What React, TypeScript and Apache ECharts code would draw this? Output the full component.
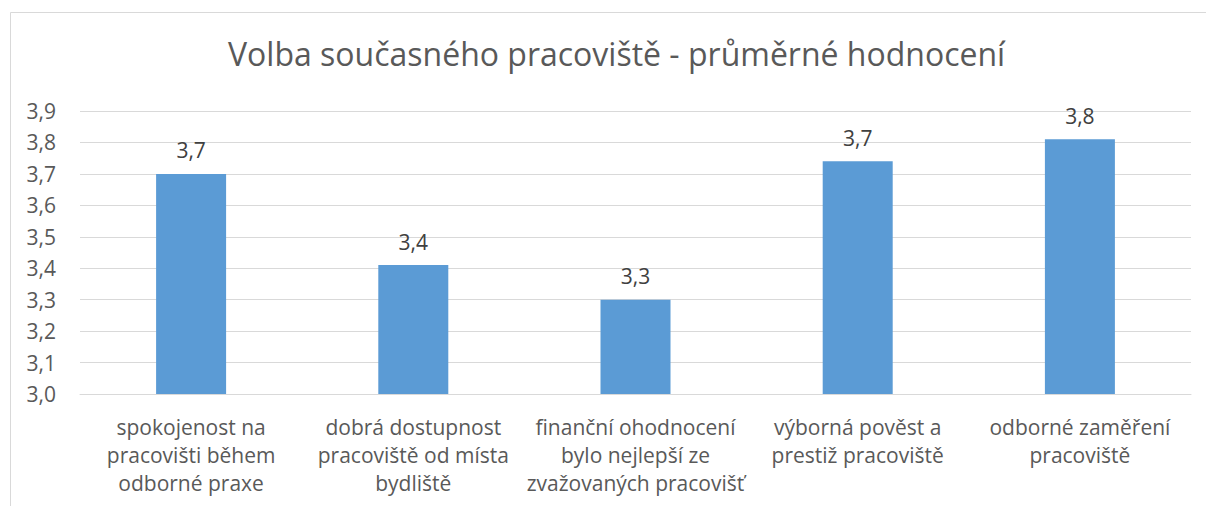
import React, { useEffect, useRef } from "react";
import * as echarts from "echarts";

const title = "Volba současného pracoviště - průměrné hodnocení";
const categories = [
  "spokojenost na\npracovišti během\nodborné praxe",
  "dobrá dostupnost\npracoviště od místa\nbydliště",
  "finanční ohodnocení\nbylo nejlepší ze\nzvažovaných pracovišť",
  "výborná pověst a\nprestiž pracoviště",
  "odborné zaměření\npracoviště",
];
const values = [3.7, 3.41, 3.3, 3.74, 3.81];
const yMin = 3.0;
const yMax = 3.9;
const yInterval = 0.1;

const FONT = "'Open Sans', sans-serif";
const TEXT = "#595959";

export default function App() {
  const ref = useRef<HTMLDivElement>(null);
  useEffect(() => {
    const chart = echarts.init(ref.current!, null, { renderer: "svg" });
    chart.setOption({
      animation: false,
      backgroundColor: "#ffffff",
      title: {
        text: title,
        left: 223,
        top: 32,
        textStyle: { fontFamily: FONT, fontSize: 32, fontWeight: "normal", color: TEXT },
      },
      graphic: [
        {
          type: "rect",
          shape: { x: 10.5, y: 12.5, width: 1400, height: 800 },
          style: { fill: "none", stroke: "#d9d9d9", lineWidth: 1 },
          silent: true,
        },
      ],
      grid: { left: 80, right: 15, top: 111, bottom: 112, containLabel: false },
      xAxis: {
        type: "category",
        data: categories,
        axisLine: { lineStyle: { color: "#d9d9d9", width: 1 } },
        axisTick: { show: false },
        axisLabel: {
          interval: 0,
          margin: 19,
          fontFamily: FONT,
          fontSize: 21,
          lineHeight: 28,
          color: TEXT,
          align: "center",
        },
      },
      yAxis: {
        type: "value",
        min: yMin,
        max: yMax,
        interval: yInterval,
        axisLine: { show: false },
        axisTick: { show: false },
        splitLine: { lineStyle: { color: "#d9d9d9", width: 1 } },
        axisLabel: {
          margin: 24,
          fontFamily: FONT,
          fontSize: 21,
          color: TEXT,
          formatter: (v: number) => v.toFixed(1).replace(".", ","),
        },
      },
      series: [
        {
          type: "bar",
          data: values,
          barWidth: 70,
          itemStyle: { color: "#5b9bd5" },
          label: {
            show: true,
            position: "top",
            distance: 13,
            fontFamily: FONT,
            fontSize: 21,
            color: "#404040",
            formatter: (p: any) => p.value.toFixed(1).replace(".", ","),
          },
        },
      ],
    });
    return () => chart.dispose();
  }, []);
  return (
    <div
      ref={ref}
      style={{ position: "fixed", left: 0, top: 0, width: 1206, height: 506 }}
    />
  );
}
